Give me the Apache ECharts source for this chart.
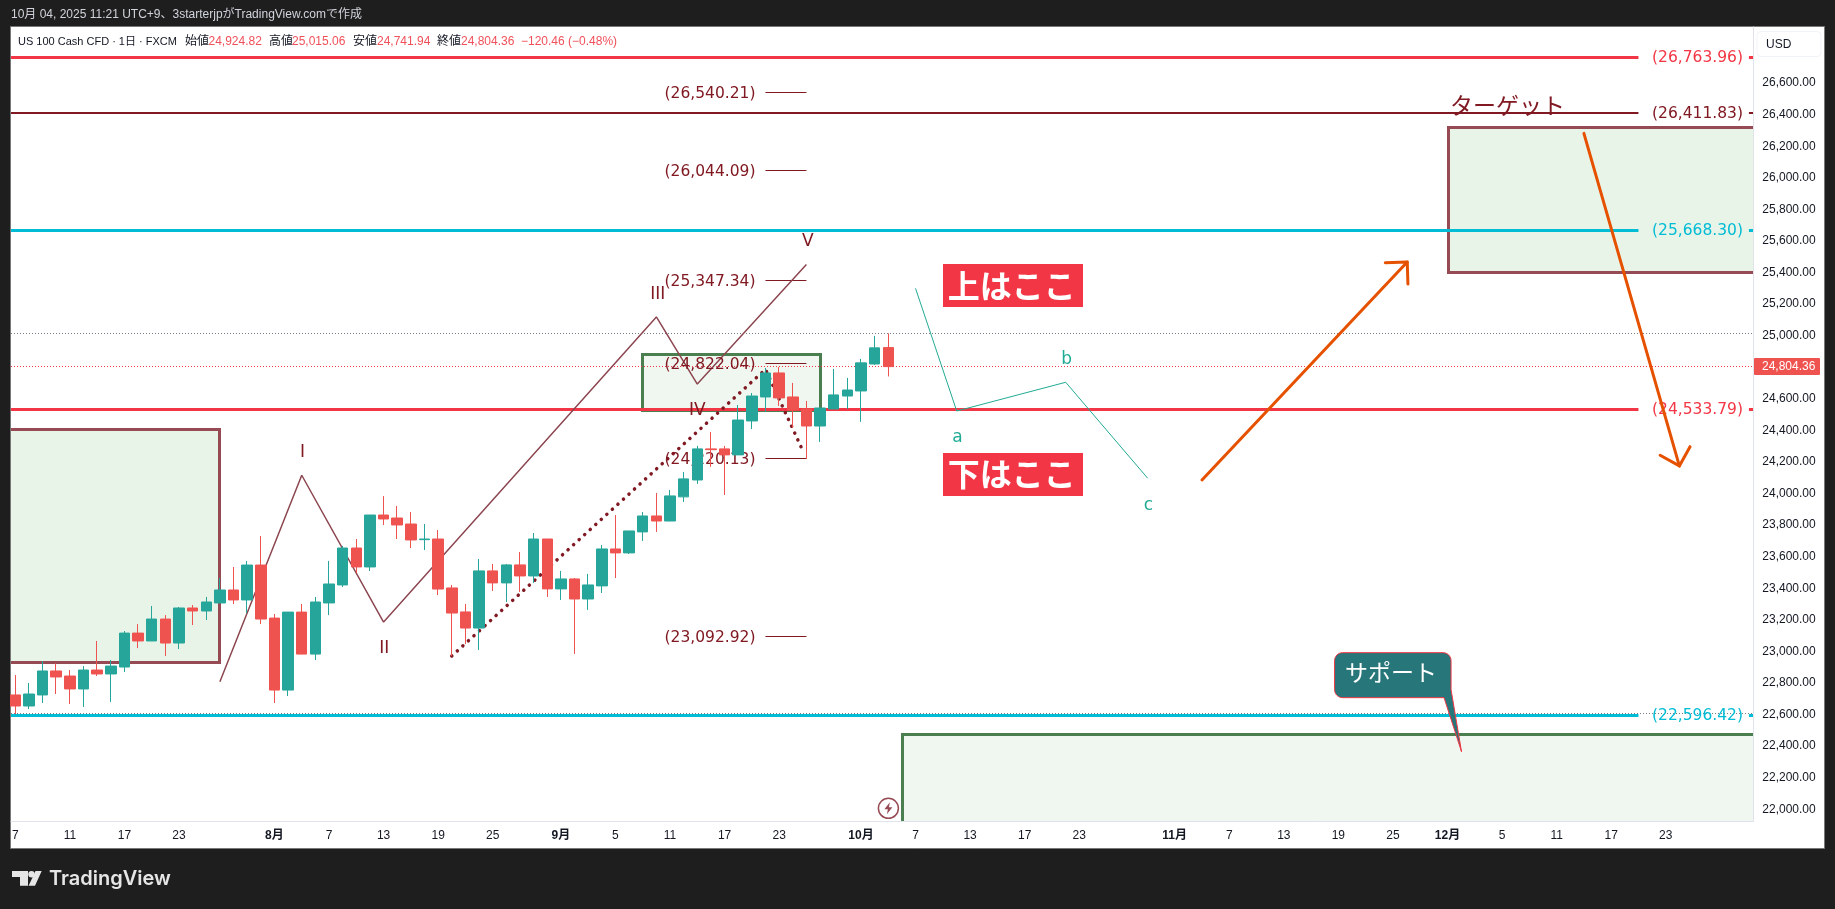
<!DOCTYPE html>
<html>
<head>
<meta charset="utf-8">
<style>html,body{margin:0;padding:0;background:#1e1e1e}#c{width:1835px;height:909px}</style>
<script src="https://cdn.jsdelivr.net/npm/echarts@6/dist/echarts.min.js"></script>
</head>
<body>
<div id="c"></div>
<script>
// ---- candles (bar 0 = Jul 7 2025, weekdays only) ----
const opens = [22724,22654,22724,22876,22844,22762,22882,22857,22901,23116,23066,23205,23053,23275,23256,23307,23389,23326,23547,23211,22755,23249,22983,23307,23421,23655,23535,23864,23845,23807,23708,23712,23402,23250,23148,23510,23434,23548,23478,23712,23396,23459,23332,23415,23649,23624,23757,23858,23826,23979,24086,24283,24283,24245,24460,24612,24764,24612,24536,24428,24536,24618,24650,24821,24924.82];
const closes = [22654,22730,22876,22838,22762,22882,22857,22907,23116,23066,23205,23053,23275,23256,23313,23389,23326,23547,23205,22755,23249,22983,23313,23427,23655,23535,23864,23839,23801,23706,23712,23395,23243,23148,23510,23434,23548,23478,23712,23396,23459,23332,23421,23649,23624,23763,23858,23826,23985,24093,24283,24278,24245,24466,24618,24764,24606,24530,24428,24542,24625,24656,24828,24923,24804.36];
const lows = [22603,22635,22673,22730,22667,22648,22844,22679,22869,23021,23066,22971,23015,23167,23199,23307,23300,23243,23173,22673,22717,22983,22945,23230,23408,23497,23509,23801,23712,23655,23642,23357,22971,23047,23009,23383,23313,23377,23434,23345,23326,22984,23263,23370,23465,23617,23700,23757,23826,23947,24061,24169,23991,24245,24409,24517,24555,24416,24219,24327,24536,24536,24454,24815,24741.94];
const highs = [22850,22800,22939,22924,22882,22907,23066,22945,23129,23173,23288,23230,23281,23294,23345,23465,23535,23573,23731,23237,23249,23300,23345,23573,23668,23712,23864,23984,23921,23883,23807,23769,23421,23301,23586,23554,23554,23630,23750,23712,23510,23465,23491,23674,23864,23763,23883,24004,24023,24137,24302,24390,24302,24561,24637,24796,24802,24701,24587,24542,24790,24733,24853,24999,25015.06];

// ---- axis labels ----
const xTickBars   = [0,4,8,12,19,23,27,31,35,40,44,48,52,56,62,66,70,74,78,85,89,93,97,101,105,109,113,117,121];
const xTickLabels = ['7','11','17','23','8月','7','13','19','25','9月','5','11','17','23','10月','7','13','17','23','11月','7','13','19','25','12月','5','11','17','23'];
const yTicks = [22000,22200,22400,22600,22800,23000,23200,23400,23600,23800,24000,24200,24400,24600,24800,25000,25200,25400,25600,25800,26000,26200,26400,26600];

// ---- horizontal levels ----
const redLevels  = [26763.96, 24533.79];
const darkLevels = [26411.83];
const cyanLevels = [25668.30, 22596.42];
const fibLevels  = [26540.21, 26044.09, 25347.34, 24822.04, 24220.13, 23092.92];
const lastClose = 24804.36, sessionHigh = 25015.06, sessionLow = 22606;

// ---- drawings, as [bar, price] ----
const waveMain = [[15,22808],[21,24116],[27,23186],[47,25119],[50,24694],[58,25451]];
const waveDots = [[32,22971],[55,24787],[57.77,24265]];
const waveAbc  = [[66,25300],[69.02,24523],[77.01,24705],[83.02,24097]];
const arrows   = [[87,24086,102.05,25467],[115,26282,122,24175]];
const brownZones = [[-2,15,24407,22930],[105.05,130,26320,25402]];
const greenZones = [[46,59.05,24882,24528],[65.05,130,22472,21800]];
const waveLabels = [[21.05,24258,'I'],[27.05,23020,'II'],[47.1,25263,'III'],[50,24525,'IV'],[58.1,25596,'V']];
const abcLabels  = [[69.07,24355,'a'],[77.08,24847,'b'],[83.07,23925,'c']];
const boxLabels  = [[73.13,25319,'上はここ'],[73.13,24122,'下はここ']];
const targetLabel = [[109.4,26462,'ターゲット']];
const callout = [[96.72,22992,106.03,22364,'サポート']];
const flashMark = [[64.01,22006]];

// ---- texts ----
const headerText = '10月 04, 2025 11:21 UTC+9、3starterjpがTradingView.comで作成';
const symbolText = 'US 100 Cash CFD · 1日 · FXCM';
const ohlcNames  = ['始値','高値','安値','終値'];
const ohlcValues = ['24,924.82','25,015.06','24,741.94','24,804.36'];
const changeText = '−120.46 (−0.48%)';

// ---- view ----
const X_MIN = -0.315, X_MAX = 127.42, Y_MIN = 21922.3, Y_MAX = 26955.9;
const RED='#f23645', DARK='#801922', CYAN='#00bcd4', BROWN='#964b54', GREEN='#4c7f4f', TEAL='#22ab94', ORANGE='#e65100';
const LATIN='"Liberation Sans","Noto Sans CJK JP",sans-serif', CJK='"Noto Sans CJK JP",sans-serif', DJ='"DejaVu Sans",sans-serif';
const fmt = v => v.toLocaleString('en-US',{minimumFractionDigits:2,maximumFractionDigits:2});
const snap = (y,w) => w%2 ? Math.floor(y)+0.5 : Math.round(y);

function custom(name, data, z, clip, draw){
  return {type:'custom', name, data, z, clip, silent:true, animation:false,
    encode:{x:0,y:1},
    renderItem:(params,api)=>draw(data[params.dataIndex],api,params)};
}
function segments(name, rows, color, width, z, dash){
  return custom(name, rows, z, true, (d,api)=>{
    const a=api.coord([d[0],d[2]]), b=api.coord([d[1],d[2]]), y=snap(a[1],width);
    return {type:'line',shape:{x1:a[0],y1:y,x2:b[0],y2:y},style:{stroke:color,lineWidth:width,lineDash:dash||null,fill:null}};
  });
}
function texts(name, rows, color, font, size, z, dy){
  return custom(name, rows, z, false, (d,api)=>{
    const p=api.coord([d[0],d[1]]);
    return {type:'text',x:p[0],y:p[1]+(dy||0),style:{text:String(d[2]),fill:color,fontFamily:font,fontSize:size,align:'center',verticalAlign:'middle'}};
  });
}
function levelRows(levels){
  const rows=[];
  levels.forEach(v=>{rows.push([X_MIN,119,v]);rows.push([127.1,X_MAX,v]);});
  return rows;
}
function levelTexts(levels){ return levels.map(v=>[123.33,v,'('+fmt(v)+')']); }
function zones(name, rows, fill, stroke){
  return custom(name, rows, 1, true, (d,api)=>{
    const a=api.coord([d[0],d[2]]), b=api.coord([d[1],d[3]]);
    const x=snap(a[0],3), y=snap(a[1],3), x2=snap(b[0],3), y2=snap(b[1],3);
    return {type:'rect',shape:{x,y,width:x2-x,height:y2-y},style:{fill,stroke,lineWidth:3}};
  });
}
function roundedBox(x,y,w,h,r,tail){
  const pts=[]; const corners=[[x+w-r,y+r,-90],[x+r,y+h-r,90],[x+r,y+r,180]];
  corners.forEach((c,ci)=>{
    if(ci===1){ pts.push([x+w,y+h-8]); pts.push(tail); pts.push([x+w-7,y+h]); }
    for(let k=0;k<=6;k++){
      const t=(c[2]+k*15)*Math.PI/180;
      pts.push([c[0]+r*Math.cos(t),c[1]+r*Math.sin(t)]);
    }
  });
  return pts;
}

const series = [
  zones('brownZones', brownZones, '#e9f4e9', BROWN),
  zones('greenZones', greenZones, '#f0f7f0', GREEN),
  segments('redLevels', levelRows(redLevels), RED, 3, 2),
  segments('darkLevels', levelRows(darkLevels), DARK, 2, 2),
  segments('cyanLevels', levelRows(cyanLevels), CYAN, 3, 2),
  segments('sessionHigh', [[X_MIN,X_MAX,sessionHigh]], '#787b86', 1, 2, [1,2]),
  segments('sessionLow',  [[X_MIN,X_MAX,sessionLow]],  '#787b86', 1, 2, [1,2]),
  segments('lastPrice',   [[X_MIN,X_MAX,lastClose]],   RED, 1, 2, [1,2]),
  segments('fibLevels', fibLevels.map(v=>[55,58,v]), DARK, 1, 2),
  texts('redLabels', levelTexts(redLevels), RED, DJ, 15.5, 2, 1),
  texts('darkLabels', levelTexts(darkLevels), DARK, DJ, 15.5, 2, 1),
  texts('cyanLabels', levelTexts(cyanLevels), CYAN, DJ, 15.5, 2, 1),
  texts('fibLabels', fibLevels.map(v=>[50.93,v,'('+fmt(v)+')']), DARK, DJ, 15.5, 3, 1),
  {type:'line',name:'waveMain',data:waveMain,symbol:'none',z:2,silent:true,animation:false,lineStyle:{color:'#8c4650',width:1.5}},
  {type:'line',name:'waveDots',data:waveDots,symbol:'none',z:2,silent:true,animation:false,lineStyle:{color:DARK,width:3.5,type:[0.1,7.4],cap:'round'}},
  {type:'line',name:'waveAbc',data:waveAbc,symbol:'none',z:2,silent:true,animation:false,lineStyle:{color:TEAL,width:1}},
  texts('waveLabels', waveLabels, DARK, DJ, 17, 3),
  texts('abcLabels', abcLabels, TEAL, DJ, 17, 3),
  texts('targetLabel', targetLabel, DARK, CJK, 23, 3),
  custom('boxLabels', boxLabels, 3, false, (d,api)=>{
    const p=api.coord([d[0],d[1]]);
    return {type:'group',children:[
      {type:'rect',shape:{x:Math.round(p[0]-70),y:Math.round(p[1]-21.5),width:140,height:43},style:{fill:RED}},
      {type:'text',x:p[0]-1,y:p[1],style:{text:d[2],fill:'#fff',fontFamily:CJK,fontSize:32,fontWeight:'bold',align:'center',verticalAlign:'middle'}}
    ]};
  }),
  custom('arrows', arrows, 3, false, (d,api)=>{
    const a=api.coord([d[0],d[1]]), b=api.coord([d[2],d[3]]);
    const ang=Math.atan2(a[1]-b[1],a[0]-b[0]);
    const h=s=>[b[0]+22*Math.cos(ang+s*Math.PI/4),b[1]+22*Math.sin(ang+s*Math.PI/4)];
    const st={stroke:ORANGE,lineWidth:3,lineCap:'round',lineJoin:'round',fill:null};
    return {type:'group',children:[
      {type:'line',shape:{x1:a[0],y1:a[1],x2:b[0],y2:b[1]},style:st},
      {type:'polyline',shape:{points:[h(-1),b,h(1)]},style:st}
    ]};
  }),
  custom('callout', callout, 5, false, (d,api)=>{
    const p=api.coord([d[0],d[1]]), t=api.coord([d[2],d[3]]);
    return {type:'group',children:[
      {type:'polygon',shape:{points:roundedBox(p[0],p[1],116.5,45,8,t)},style:{fill:'#26767a',stroke:RED,lineWidth:1}},
      {type:'text',x:p[0]+56.5,y:p[1]+20,style:{text:d[4],fill:'#fff',fontFamily:CJK,fontSize:23,align:'center',verticalAlign:'middle'}}
    ]};
  }),
  custom('flash', flashMark, 3, false, (d,api)=>{
    const p=api.coord([d[0],d[1]]);
    const P=(x,y)=>[p[0]+x,p[1]+y];
    return {type:'group',children:[
      {type:'circle',shape:{cx:p[0],cy:p[1],r:10},style:{fill:'#fff',stroke:BROWN,lineWidth:1.5}},
      {type:'polygon',shape:{points:[P(1.5,-6),P(-4,1),P(-0.5,1),P(-1.5,6),P(4,-1),P(0.5,-1)]},style:{fill:BROWN}}
    ]};
  }),
  {type:'candlestick',name:'US 100',z:4,silent:true,animation:false,barWidth:11,
    encode:{x:0,y:[1,2,3,4]},
    data:opens.map((o,i)=>[i,o,closes[i],lows[i],highs[i]]),
    itemStyle:{color:'#26a69a',color0:'#ef5350',borderColor:'#26a69a',borderColor0:'#ef5350',borderWidth:1}},
  custom('lastPriceTag', [[0,lastClose]], 20, false, (d,api,params)=>{
    const y=api.coord([X_MIN,d[1]])[1];
    return {type:'group',children:[
      {type:'rect',shape:{x:1754,y:Math.round(y-8.5),width:66,height:17,r:1},style:{fill:'#ef5350'}},
      {type:'text',x:1762,y:y,style:{text:fmt(d[1]),fill:'#fff',fontFamily:LATIN,fontSize:12,align:'left',verticalAlign:'middle'}}
    ]};
  })
];

// ---- fixed page furniture ----
const ohlcX = [185,269,353,437], ohlcValX=[208.5,292,377,461];
const T=(text,x,y,size,fill,font,extra)=>({type:'text',x,y,z:30,silent:true,style:Object.assign({text,fill,fontFamily:font||LATIN,fontSize:size,align:'left',verticalAlign:'middle'},extra||{})});
const graphics = [
  {type:'rect',z:-5,silent:true,shape:{x:10.5,y:26.5,width:1814,height:822},style:{fill:'#fff',stroke:'#787878',lineWidth:1}},
  T(headerText,11,15,12,'#d1d4dc'),
  T(symbolText,18,41.7,11,'#131722'),
  T(changeText,521,41.7,12,'#f0505a'),
  {type:'rect',z:30,silent:true,shape:{x:1757,y:31.5,width:64,height:25,r:4},style:{fill:'#fff',stroke:'#f0f3fa',lineWidth:1}},
  T('USD',1766,44.5,12,'#131722'),
  // TradingView mark
  {type:'polygon',z:30,silent:true,shape:{points:[[12,871],[28,871],[28,885.7],[20,885.7],[20,877],[12,877]]},style:{fill:'#e6e6e6'}},
  {type:'circle',z:30,silent:true,shape:{cx:31.5,cy:874.2,r:3.2},style:{fill:'#e6e6e6'}},
  {type:'polygon',z:30,silent:true,shape:{points:[[35.5,871],[41.7,871],[35,885.7],[28.6,885.7]]},style:{fill:'#e6e6e6'}},
  T('TradingView',49,879,20,'#e6e6e6','Inter,sans-serif',{fontWeight:600})
];
ohlcNames.forEach((n,i)=>{
  graphics.push(T(n,ohlcX[i],41.7,12,'#131722'));
  graphics.push(T(ohlcValues[i],ohlcValX[i],41.7,12,'#f0505a'));
});

const chart = echarts.init(document.getElementById('c'),null,{renderer:'canvas'});
chart.setOption({
  backgroundColor:'#1e1e1e',
  animation:false,
  graphic:graphics,
  grid:{left:11,right:81.7,top:27,bottom:87.5,show:false},
  xAxis:{type:'value',min:X_MIN,max:X_MAX,z:6,
    splitLine:{show:false},axisTick:{show:false},
    axisLine:{show:true,onZero:false,lineStyle:{color:'#e0e3eb',width:1}},
    axisLabel:{customValues:xTickBars,margin:8,color:'#131722',fontFamily:LATIN,fontSize:12,
      formatter:v=>{const s=xTickLabels[xTickBars.indexOf(v)]||'';return s.includes('月')?'{m|'+s+'}':s;},
      rich:{m:{fontWeight:'bold',fontFamily:LATIN,fontSize:12,color:'#131722'}}}},
  yAxis:{type:'value',position:'right',min:Y_MIN,max:Y_MAX,z:6,scale:true,
    splitLine:{show:false},axisTick:{show:false},
    axisLine:{show:true,onZero:false,lineStyle:{color:'#e0e3eb',width:1}},
    axisLabel:{customValues:yTicks,margin:9,color:'#131722',fontFamily:LATIN,fontSize:12,padding:[0,0,3,0],formatter:v=>fmt(v)}},
  series
});
</script>
</body>
</html>
